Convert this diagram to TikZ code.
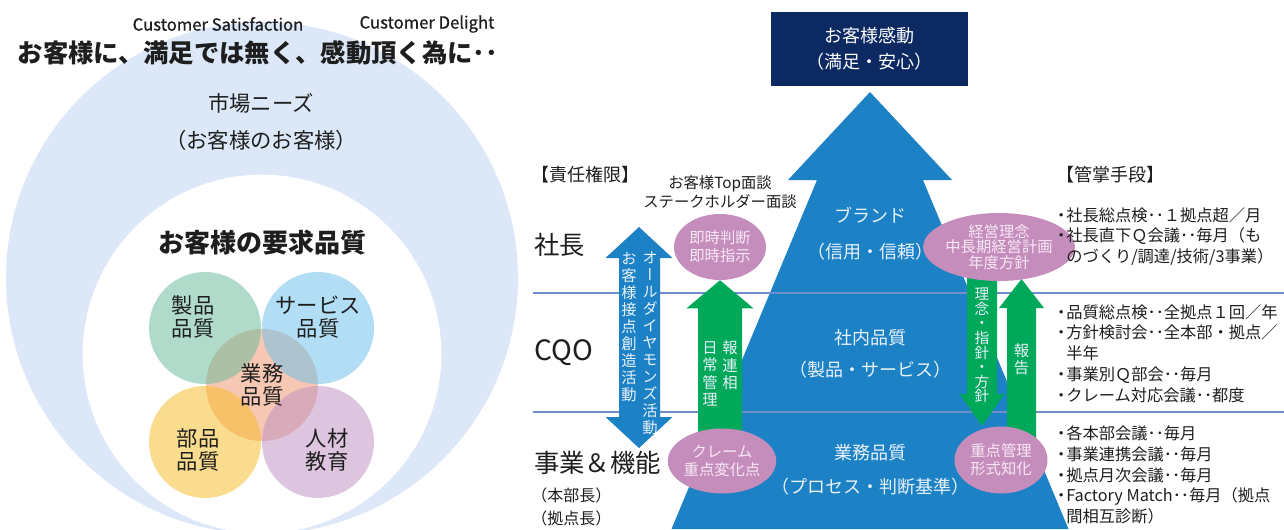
\documentclass[tikz,border=0pt]{standalone}
\usepackage{fontspec}
\setmainfont{Noto Sans CJK JP}
\newfontfamily\vjp[RawFeature=+vert]{Noto Sans CJK JP}
\newfontfamily\latsemi[FakeBold=0.8]{Noto Sans CJK JP}
\usetikzlibrary{shapes.geometric}
\definecolor{outerblue}{RGB}{220,232,247}
\definecolor{arrowblue}{RGB}{28,129,197}
\definecolor{navy}{RGB}{12,41,98}
\definecolor{ggreen}{RGB}{0,168,90}
\definecolor{pinkell}{RGB}{196,141,187}
\definecolor{hlinec}{RGB}{112,142,200}
\definecolor{txt}{RGB}{30,30,30}
\definecolor{lighttxt}{RGB}{232,242,250}
\definecolor{pinktxt}{RGB}{248,232,246}
\definecolor{vgreen}{RGB}{99,185,151}
\definecolor{vblue}{RGB}{103,191,237}
\definecolor{vyellow}{RGB}{247,187,31}
\definecolor{vpurple}{RGB}{189,141,193}
\definecolor{vpeach}{RGB}{246,200,180}
\newcommand\fsz[2]{\fontsize{#1}{#2}\selectfont\lineskiplimit=-20pt\relax}
\newcommand\bul{\makebox[7.5pt][c]{・}}
\newcommand\dd{･･}
\pgfdeclarelayer{back}
\pgfdeclarelayer{mid}
\pgfsetlayers{back,mid,main}
\begin{document}
\begin{tikzpicture}[x=0.75pt,y=-0.75pt,
  lbl/.style={inner sep=0pt,text=txt},
  onblue/.style={inner sep=0pt,text=lighttxt,font=\fsz{13.5pt}{16pt}},
  vtxt/.style={inner sep=0pt,text=lighttxt,align=center},
  pinkellipse/.style={ellipse,fill=pinkell,inner sep=0pt,text=pinktxt,align=center,font=\fsz{11.5pt}{13.5pt}},
  venn/.style={lbl,align=center,font=\fsz{16pt}{17.5pt}},
  listtxt/.style={lbl,anchor=west,align=left,font=\fsz{12.2pt}{15.6pt}},
  greenarrow/.style={fill=ggreen},
  bluearrow/.style={fill=arrowblue},
  hline/.style={draw=hlinec,line width=0.8pt}]
\useasboundingbox (0,0) rectangle (1284,529);

% ---------------- left part ----------------
\begin{pgfonlayer}{back}
\fill[outerblue] (262,278) circle (192pt);
\fill[white] (262,354) circle (134.5pt);
\fill[vpeach] (262,385) circle (42pt);
\fill[vgreen,fill opacity=0.5] (205,328) circle (42pt);
\fill[vblue,fill opacity=0.5] (318,328) circle (42pt);
\fill[vyellow,fill opacity=0.5] (205,442) circle (42pt);
\fill[vpurple,fill opacity=0.5] (318,442) circle (42pt);
\end{pgfonlayer}

\node[lbl,font=\latsemi\fsz{12.5pt}{14pt}] (cs) at (218,24) {Customer Satisfaction};
\node[lbl,font=\latsemi\fsz{12.5pt}{14pt}] (cd) at (427,24) {Customer Delight};
\node[lbl,font=\fsz{19pt}{22pt}\bfseries] (title) at (258,53) {お客様に、満足では無く、感動頂く為に\dd};
\node[lbl,font=\fsz{16pt}{19pt}] (needs) at (261,103) {市場ニーズ};
\node[lbl,font=\fsz{16pt}{19pt}] (needs2) at (261,140) {（お客様のお客様）};
\node[lbl,font=\fsz{19.5pt}{22pt}\bfseries] (req) at (262,243) {お客様の要求品質};
\node[venn] (seihin) at (193,317) {製品\\品質};
\node[venn] (service) at (318,317) {サービス\\品質};
\node[venn] (buhin) at (198,450) {部品\\品質};
\node[venn] (jinzai) at (327,450) {人材\\教育};
\node[venn] (gyomu) at (262,385) {業務\\品質};

% ---------------- right part ----------------
\begin{pgfonlayer}{back}
\fill[bluearrow] (870,92) -- (952,180) -- (923,180) -- (1068.5,529) -- (671.5,529) -- (817,180) -- (788,180) -- cycle;
\draw[hline] (533,293) -- (1284,293);
\draw[hline] (533,412) -- (1284,412);
\end{pgfonlayer}

\node[fill=navy,minimum width=147.75pt,minimum height=55.5pt,inner sep=0pt,text=white,align=center,font=\fsz{13.5pt}{19.5pt}] (goal) at (869.5,49) {お客様感動\\（満足・安心）};

\node[onblue] (brand) at (870,215) {ブランド};
\node[onblue] (brand2) at (870,252) {（信用・信頼）};
\node[onblue] (shanai) at (870,338) {社内品質};
\node[onblue] (shanai2) at (870,370) {（製品・サービス）};
\node[onblue] (gyomuq) at (870,453) {業務品質};
\node[onblue] (gyomuq2) at (870,487) {（プロセス・判断基準）};

\node[lbl,anchor=west,font=\fsz{13.5pt}{16pt}] (hdrl) at (531,175) {【責任権限】};
\node[lbl,anchor=west,font=\fsz{19pt}{22pt}] (shacho) at (534,245) {社長};
\node[lbl,anchor=west,font=\fsz{21pt}{24pt}] (cqo) at (534,353) {CQO};
\node[lbl,anchor=west,font=\fsz{19pt}{22pt}] (jigyo) at (534,463) {事業＆機能};
\node[lbl,anchor=west,font=\fsz{12pt}{14pt}] (honbu) at (531,495) {（本部長）};
\node[lbl,anchor=west,font=\fsz{12pt}{14pt}] (kyoten) at (531,518) {（拠点長）};

\node[lbl,align=center,font=\fsz{11.5pt}{14.25pt}] (topmtg) at (720,192.5) {お客様Top面談\\ステークホルダー面談};

\node[pinkellipse,minimum width=69pt,minimum height=49.5pt] (e1) at (720,247) {即時判断\\即時指示};
\node[pinkellipse,minimum width=68.25pt,minimum height=48.75pt] (e2) at (722,461) {クレーム\\重点変化点};
\node[pinkellipse,minimum width=88.5pt,minimum height=51pt,font=\fsz{11.5pt}{11.4pt}] (e3) at (999,247) {経営理念\\中長期経営計画\\年度方針};
\node[pinkellipse,minimum width=69.75pt,minimum height=50.25pt] (e4) at (1001,460) {重点管理\\形式知化};

\begin{pgfonlayer}{mid}
\fill[bluearrow] (639,227) -- (672.5,258) -- (660,258) -- (660,417) -- (672.5,417) -- (639,448) -- (605.5,417) -- (619,417) -- (619,258) -- (605.5,258) -- cycle;
\fill[greenarrow] (e1.south) -- ++(33.5,28) -- ++(-11.5,0) -- ++(0,150) -- ++(-44,0) -- ++(0,-150) -- ++(-11.5,0) -- cycle;
\fill[greenarrow] (967,265) -- (997,265) -- (997,394) -- (1004.5,394) -- (982,426) -- (959.5,394) -- (967,394) -- cycle;
\fill[greenarrow] (1021.5,279) -- (1044,308) -- (1036,308) -- (1036,452) -- (1007,452) -- (1007,308) -- (999,308) -- cycle;
\end{pgfonlayer}

\node[vtxt,font=\vjp\fsz{11.5pt}{12.75pt}] (diamond) at (650,343) {オ\\ー\\ル\\ダ\\イ\\ヤ\\モ\\ン\\ズ\\活\\動};
\node[vtxt,font=\vjp\fsz{11.5pt}{12.75pt}] (contact) at (629,327.5) {お\\客\\様\\接\\点\\創\\造\\活\\動};
\node[vtxt,font=\vjp\fsz{11.5pt}{13.1pt}] (horen) at (730,365.5) {報\\連\\相};
\node[vtxt,font=\vjp\fsz{11.5pt}{13.1pt}] (nichijo) at (710,374) {日\\常\\管\\理};
\node[vtxt,font=\vjp\fsz{11pt}{10.9pt}] (rinen) at (982,345.5) {理\\念\\・\\指\\針\\・\\方\\針};
\node[vtxt,font=\vjp\fsz{11.5pt}{12.4pt}] (hokoku) at (1021.5,359) {報\\告};

\node[lbl,anchor=west,font=\fsz{13.5pt}{16pt}] (hdrr) at (1056,175) {【管掌手段】};
\node[listtxt] (g1) at (1056,236.5) {\bul 社長総点検\dd１拠点超／月\\\bul 社長直下Ｑ会議\dd 毎月（も\\\hspace*{7.5pt}のづくり/調達/技術/3事業）};
\node[listtxt] (g2) at (1056,353.5) {\bul 品質総点検\dd 全拠点１回／年\\\bul 方針検討会\dd 全本部・拠点／\\\hspace*{7.5pt}半年\\\bul 事業別Ｑ部会\dd 毎月\\\bul クレーム対応会議\dd 都度};
\node[listtxt] (g3) at (1056,475) {\bul 各本部会議\dd 毎月\\\bul 事業連携会議\dd 毎月\\\bul 拠点月次会議\dd 毎月\\\bul Factory Match\dd 毎月（拠点\\\hspace*{7.5pt}間相互診断）};
\end{tikzpicture}
\end{document}
